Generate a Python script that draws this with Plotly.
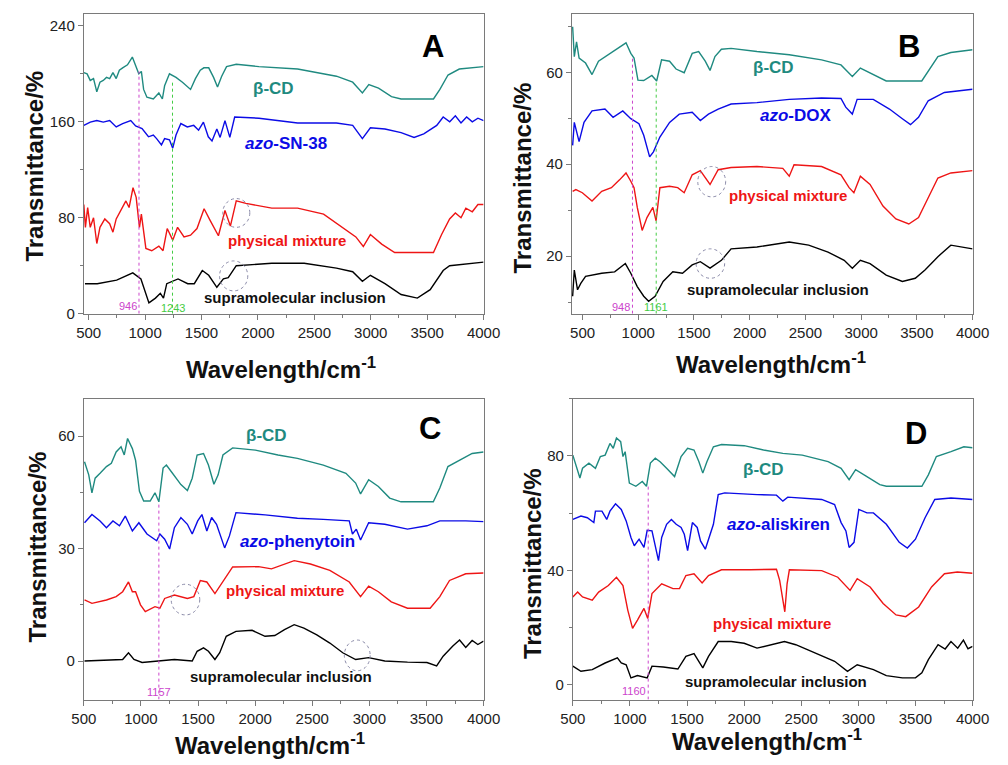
import plotly.graph_objects as go

# ---------------- FTIR spectra (wavenumber, transmittance) ----------------
# Panel A : azo-SN-38
a_bcd_x = [457, 486, 514, 543, 572, 600, 629, 658, 686, 715, 744, 772, 801, 844, 887, 916, 944, 967, 987, 1016,
           1073, 1122, 1153, 1173, 1216, 1274, 1331, 1403, 1446, 1489, 1521, 1564, 1607, 1642, 1679, 1722, 1808,
           2009, 2352, 2696, 2840, 2926, 2983, 3069, 3184, 3269, 3556, 3613, 3685, 3785, 3900, 4000]
a_bcd_y = [201, 200, 194.5, 196, 185, 193, 194.5, 197, 196, 201, 196, 203, 205, 207.5, 214, 206, 200, 202, 187,
           180.5, 179, 184, 179, 190, 200, 197, 193, 187, 196, 203, 205, 205, 197, 189, 198, 206, 208,
           206, 204, 198, 193, 184, 191, 188, 181, 179, 179, 187, 199, 204, 205, 206]

a_drug_x = [457, 514, 572, 629, 686, 744, 801, 873, 916, 973, 1030, 1073, 1102, 1145, 1173, 1216, 1245, 1274,
            1317, 1374, 1431, 1474, 1517, 1560, 1593, 1636, 1665, 1708, 1751, 1794, 2009, 2352, 2696, 2840,
            2926, 2997, 3126, 3269, 3384, 3470, 3585, 3642, 3700, 3750, 3800, 3850, 3900, 3950, 4000]
a_drug_y = [157, 159.7, 161, 159.7, 161, 155.7, 158.5, 161, 156.5, 154.4, 147.5, 149, 146, 140.8, 146, 145, 138,
            149, 158.5, 155.7, 157, 153, 159.7, 147.5, 144, 154, 147, 161, 147, 164, 163, 159, 159, 157,
            146, 155, 154, 151, 147, 150, 157, 164, 160, 165, 159, 164, 160, 163, 161]

a_mix_x = [457, 471, 491, 514, 543, 572, 600, 643, 686, 715, 744, 787, 830, 858, 893, 921, 950, 967, 987, 1007,
           1059, 1122, 1159, 1196, 1245, 1288, 1345, 1403, 1460, 1523, 1575, 1650, 1708, 1756, 1808, 1894,
           2123, 2352, 2582, 2754, 2868, 2934, 2997, 3097, 3212, 3556, 3628, 3699, 3750, 3800, 3843, 3900,
           3950, 4000]
a_mix_y = [91, 72, 88.5, 72, 80, 58.5, 72, 79, 75, 68, 79, 86, 94, 88.5, 105, 97, 72, 83, 69.5, 54.4,
           52.5, 56.4, 52.5, 71, 61.3, 72, 64, 65.5, 71, 87.5, 78, 65, 86, 73, 94, 92,
           88, 88, 83, 72, 64, 56, 66, 58, 51, 51, 66, 79, 84, 80, 88, 85,
           91, 91]

a_inc_x = [467, 576, 748, 891, 963, 1034, 1092, 1135, 1163, 1192, 1292, 1378, 1436, 1507, 1564, 1636, 1694,
           1737, 1808, 2123, 2410, 2696, 2840, 2926, 2997, 3126, 3269, 3413, 3527, 3642, 3699, 4000]
a_inc_y = [25, 25, 28, 34, 29, 9, 13, 17, 13, 25, 29, 25, 25, 36, 32, 22, 29,
           30, 40, 42, 42, 38, 35, 27, 32, 25, 16, 13, 20, 36, 40, 43]

# Panel B : azo-DOX
b_bcd_x = [411, 426, 446, 469, 527, 585, 643, 730, 817, 890, 933, 962, 997, 1049, 1122, 1165, 1209, 1281, 1339,
           1412, 1484, 1542, 1601, 1644, 1688, 1746, 1833, 2065, 2355, 2645, 2819, 2921, 2993, 3109, 3225,
           3544, 3631, 3689, 3805, 4000]
b_bcd_y = [69.9, 63.4, 66.6, 63.1, 62.0, 59.5, 62.4, 63.8, 65.2, 66.4, 64.1, 63.1, 58.3, 58.2, 59.3, 58.1, 62.7,
           62.4, 60.7, 59.9, 64.1, 64.5, 62.4, 60.4, 63.4, 65.0, 65.2, 64.5, 63.8, 62.7, 61.6, 59.1, 60.9,
           59.5, 58.1, 58.1, 61.3, 63.4, 64.3, 64.9]

b_drug_x = [411, 426, 469, 513, 585, 701, 774, 861, 933, 1006, 1049, 1102, 1136, 1194, 1281, 1368, 1484, 1557,
            1630, 1717, 1833, 2065, 2355, 2645, 2819, 2862, 2921, 2964, 3109, 3254, 3370, 3443, 3515, 3602,
            3747, 4000]
b_drug_y = [44.1, 49.1, 44.9, 49.1, 51.6, 52.0, 50.2, 51.6, 49.9, 48.8, 46.3, 41.6, 42.7, 45.9, 49.1, 50.9,
            51.3, 49.5, 50.9, 52.0, 53.1, 53.4, 54.1, 54.4, 54.3, 52.4, 50.9, 54.1, 54.1, 52.0, 49.9, 48.6,
            50.2, 53.8, 55.6, 56.3]

b_mix_x = [411, 440, 498, 585, 672, 759, 832, 890, 933, 962, 991, 1035, 1078, 1131, 1160, 1194, 1281, 1354,
           1412, 1484, 1557, 1644, 1717, 1833, 2065, 2297, 2355, 2398, 2645, 2819, 2892, 2935, 2993, 3080,
           3196, 3312, 3428, 3515, 3602, 3689, 3805, 4000]
b_mix_y = [34.1, 34.5, 33.8, 32.0, 34.1, 34.9, 36.6, 38.1, 36.3, 34.9, 30.6, 25.6, 28.4, 30.6, 27.7, 34.9,
           35.2, 34.9, 33.8, 37.7, 38.6, 35.6, 38.8, 39.3, 39.5, 39.1, 37.4, 39.9, 39.5, 37.7, 34.9, 33.8,
           37.4, 35.6, 30.9, 28.1, 27.0, 28.4, 32.7, 37.0, 38.1, 38.6]

b_inc_x = [411, 426, 455, 484, 527, 672, 788, 884, 933, 991, 1049, 1093, 1151, 1223, 1310, 1397, 1484, 1557,
           1644, 1746, 1833, 2065, 2355, 2529, 2703, 2848, 2921, 2993, 3080, 3225, 3370, 3486, 3573, 3689,
           3805, 4000]
b_inc_y = [11.3, 17.0, 12.7, 14.1, 15.6, 16.3, 16.6, 18.4, 16.3, 13.4, 11.3, 10.2, 11.3, 14.5, 16.6, 16.3,
           18.1, 18.8, 17.4, 19.1, 21.6, 22.0, 23.1, 22.4, 20.9, 19.1, 17.4, 19.1, 18.4, 15.9, 14.5, 15.2,
           17.0, 19.9, 22.4, 21.6]

# Panel C : azo-phenytoin
c_bcd_x = [506, 543, 571, 599, 642, 698, 741, 783, 826, 854, 883, 925, 953, 987, 1024, 1081, 1123, 1157, 1194,
           1223, 1265, 1308, 1350, 1407, 1449, 1492, 1548, 1591, 1639, 1676, 1718, 1803, 2002, 2200, 2370,
           2597, 2795, 2880, 2923, 2994, 3079, 3178, 3277, 3560, 3617, 3688, 3787, 3900, 4000]
c_bcd_y = [53.2, 49.7, 44.9, 48.8, 50.1, 51.9, 52.8, 55.8, 57.2, 55.0, 59.4, 56.7, 53.6, 45.3, 42.7, 42.7,
           44.9, 42.5, 51.5, 52.3, 50.6, 48.8, 47.1, 45.5, 48.8, 55.0, 55.4, 52.3, 47.2, 49.7, 55.0, 56.9,
           56.3, 55.0, 54.1, 52.3, 50.1, 47.5, 44.6, 48.4, 46.6, 43.5, 42.5, 42.5, 46.2, 51.9, 53.6, 55.4,
           55.8]

c_drug_x = [506, 571, 642, 698, 755, 812, 863, 925, 982, 1053, 1138, 1166, 1208, 1251, 1293, 1350, 1407, 1449,
            1497, 1534, 1577, 1619, 1662, 1718, 1733, 1775, 1803, 1832, 2087, 2370, 2597, 2824, 2852, 2886,
            2923, 2994, 3135, 3334, 3504, 3617, 3844, 4000]
c_drug_y = [36.9, 39.1, 37.4, 35.6, 37.4, 36.1, 38.7, 34.7, 36.9, 33.9, 32.1, 33.9, 32.5, 29.9, 35.6, 38.3,
            36.5, 33.9, 37.4, 39.1, 34.7, 38.3, 36.5, 31.2, 30.2, 33.4, 36.5, 39.6, 39.0, 38.1, 37.8, 37.4,
            33.9, 35.2, 32.3, 36.9, 36.5, 35.2, 36.1, 37.4, 37.4, 37.2]

c_mix_x = [506, 571, 698, 783, 840, 891, 925, 953, 996, 1038, 1123, 1166, 1208, 1293, 1407, 1463, 1520, 1577,
           1648, 1704, 1803, 2030, 2143, 2342, 2484, 2654, 2824, 2923, 2994, 3079, 3192, 3334, 3532, 3617,
           3702, 3844, 4000]
c_mix_y = [16.3, 15.4, 16.3, 17.2, 18.5, 21.1, 18.5, 18.5, 15.0, 13.2, 14.5, 14.1, 16.7, 17.6, 16.7, 17.2,
           21.5, 21.1, 18.0, 20.7, 25.1, 25.2, 24.6, 26.8, 25.9, 24.2, 21.1, 17.2, 20.0, 18.5, 15.8, 14.1,
           14.1, 17.2, 21.5, 23.3, 23.5]

c_inc_x = [506, 727, 840, 891, 939, 1010, 1152, 1293, 1449, 1492, 1548, 1591, 1648, 1690, 1747, 1832, 1973,
           2087, 2172, 2257, 2342, 2427, 2540, 2654, 2767, 2880, 2994, 3135, 3334, 3504, 3589, 3646, 3731,
           3790, 3844, 3900, 3950, 4000]
c_inc_y = [0.0, 0.3, 0.4, 2.2, 0.4, -0.4, 0.0, 0.4, 0.0, 2.6, 3.5, 2.6, 0.4, 2.2, 6.6, 7.9, 8.2, 6.6, 6.8,
           8.4, 9.7, 8.8, 7.0, 4.8, 2.2, 0.4, 0.9, 0.0, -0.3, -0.4, -1.3, 1.3, 4.0, 5.6, 3.6, 5.5, 4.4, 5.3]

# Panel D : azo-aliskiren
d_bcd_x = [500, 528, 562, 585, 641, 698, 741, 783, 825, 854, 882, 919, 939, 958, 995, 1052, 1108, 1145, 1179,
           1222, 1264, 1321, 1391, 1448, 1505, 1561, 1604, 1638, 1674, 1731, 1802, 2000, 2170, 2339, 2509,
           2735, 2849, 2919, 2976, 3075, 3188, 3245, 3556, 3613, 3683, 3811, 3924, 4000]
d_bcd_y = [80.3, 76.9, 72.3, 75.7, 77.5, 75.7, 79.8, 80.3, 84.4, 82.7, 86.3, 85.0, 79.8, 81.5, 70.5, 69.4,
           71.1, 69.4, 77.5, 79.2, 78.0, 75.7, 72.8, 79.8, 82.7, 82.1, 78.0, 74.0, 78.0, 83.2, 84.0, 83.6,
           82.1, 80.9, 80.3, 78.0, 75.7, 71.7, 75.2, 72.8, 70.0, 69.4, 69.4, 73.4, 79.8, 81.5, 83.2, 82.9]

d_drug_x = [500, 571, 627, 684, 698, 755, 797, 825, 874, 924, 967, 1009, 1038, 1080, 1123, 1151, 1193, 1222,
            1250, 1278, 1321, 1363, 1405, 1448, 1476, 1505, 1547, 1589, 1618, 1660, 1703, 1731, 1773, 1830,
            2113, 2283, 2339, 2382, 2679, 2792, 2849, 2891, 2919, 2962, 3004, 3075, 3132, 3245, 3358, 3429,
            3500, 3584, 3669, 3811, 4000]
d_drug_y = [57.8, 59.0, 58.4, 56.7, 60.7, 60.7, 57.8, 60.7, 63.3, 61.3, 57.3, 51.5, 48.6, 50.9, 48.0, 54.0,
            53.8, 48.0, 43.4, 51.5, 56.1, 57.8, 56.1, 55.0, 52.6, 46.9, 56.7, 55.0, 50.3, 47.4, 53.2, 56.1,
            66.5, 67.1, 66.5, 66.3, 64.2, 65.6, 64.8, 63.0, 56.7, 53.8, 48.0, 49.8, 61.3, 60.1, 60.1, 56.1,
            49.8, 47.8, 50.9, 58.4, 64.8, 65.3, 64.8]

d_mix_x = [500, 542, 585, 670, 726, 811, 882, 939, 981, 1023, 1066, 1123, 1156, 1193, 1278, 1377, 1434, 1490,
           1561, 1632, 1688, 1802, 2056, 2283, 2311, 2339, 2356, 2376, 2396, 2679, 2820, 2928, 2990, 3103,
           3217, 3330, 3415, 3528, 3641, 3754, 3867, 4000]
d_mix_y = [30.7, 32.4, 30.7, 29.6, 32.4, 34.7, 37.6, 34.7, 26.1, 19.7, 22.6, 26.7, 23.2, 31.9, 35.3, 33.6,
           33.6, 38.2, 38.8, 35.6, 38.2, 40.2, 40.2, 40.4, 36.5, 29.6, 25.5, 35.3, 40.2, 39.9, 37.6, 33.0,
           37.1, 34.2, 28.4, 24.4, 23.8, 27.2, 34.2, 38.8, 39.4, 39.0]

d_inc_x = [500, 571, 670, 783, 890, 924, 967, 1009, 1066, 1151, 1193, 1292, 1420, 1490, 1561, 1638, 1688,
           1773, 1887, 2000, 2113, 2226, 2353, 2452, 2622, 2792, 2905, 2990, 3132, 3245, 3386, 3500, 3556,
           3613, 3698, 3760, 3811, 3870, 3920, 3960, 4000]
d_inc_y = [6.5, 4.7, 5.3, 7.6, 9.4, 7.6, 7.0, 2.4, 3.2, 2.4, 6.5, 6.2, 5.5, 9.9, 10.9, 5.9, 9.9, 15.1,
           15.1, 14.5, 12.8, 14.0, 15.1, 14.0, 11.1, 8.2, 4.7, 7.0, 5.3, 3.2, 2.4, 2.4, 4.2, 8.8, 14.0, 12.5,
           15.1, 12.8, 15.6, 12.6, 13.4]

# ---------------- labels ----------------
panel_letters = ["A", "B", "C", "D"]
drug_names = ["SN-38", "DOX", "phenytoin", "aliskiren"]
y_ticks = [[0, 80, 160, 240], [20, 40, 60], [0, 30, 60], [0, 40, 80]]
y_minor = [40, 10, 15, 20]
x_ticks = [500, 1000, 1500, 2000, 2500, 3000, 3500, 4000]

# marked band positions: (panel, wavenumber, label colour key)
band_marks = [(0, 946, "m"), (0, 1243, "g"), (1, 948, "m"), (1, 1161, "g"), (2, 1157, "m"), (3, 1160, "m")]

TEAL = "#1f8a80"
BLUE = "#0b0be6"
RED = "#ee1515"
BLACK = "#000000"
MAG = "#cc44cc"
GRN = "#44cc44"

W, H = 1008, 765


def px_x(p):
    return p / W


def px_y(p):
    return 1 - p / H


# plot-area boxes in pixels: (left, right, top, bottom)
boxes = [(73, 485, 14, 317), (576, 989, 14, 317), (73, 485, 403, 707), (577, 989, 403, 707)]
x_ranges = [[457, 4000], [404, 4000], [500, 4000], [500, 4000]]
y_ranges = [[0, 250], [7.5, 72.7], [-10.3, 70], [-5.2, 100]]

panels = [
    (a_bcd_x, a_bcd_y, a_drug_x, a_drug_y, a_mix_x, a_mix_y, a_inc_x, a_inc_y),
    (b_bcd_x, b_bcd_y, b_drug_x, b_drug_y, b_mix_x, b_mix_y, b_inc_x, b_inc_y),
    (c_bcd_x, c_bcd_y, c_drug_x, c_drug_y, c_mix_x, c_mix_y, c_inc_x, c_inc_y),
    (d_bcd_x, d_bcd_y, d_drug_x, d_drug_y, d_mix_x, d_mix_y, d_inc_x, d_inc_y),
]

fig = go.Figure()
layout = dict(width=W, height=H, margin=dict(l=0, r=0, t=0, b=0),
              paper_bgcolor="white", plot_bgcolor="white", showlegend=False)

axis_font = dict(family="Arial, Liberation Sans, sans-serif", size=15, color="#222")

for i, series in enumerate(panels):
    n = "" if i == 0 else str(i + 1)
    xa, ya = "x" + n, "y" + n
    l, r, t, b = boxes[i]
    colors = [TEAL, BLUE, RED, BLACK]
    for k in range(4):
        fig.add_trace(go.Scatter(x=series[2 * k], y=series[2 * k + 1], mode="lines",
                                 line=dict(color=colors[k], width=1.4), xaxis=xa, yaxis=ya,
                                 hoverinfo="skip"))
    common = dict(showline=True, linecolor="#7a7a7a", linewidth=1, mirror=True, ticks="outside",
                  ticklen=5, tickcolor="#7a7a7a", tickfont=axis_font, showgrid=False, zeroline=False)
    layout["xaxis" + n] = dict(domain=[px_x(l), px_x(r)], range=x_ranges[i], anchor=ya,
                               tickvals=x_ticks, minor=dict(dtick=250, tick0=0, ticklen=3,
                                                            tickcolor="#7a7a7a", ticks="outside"),
                               **common)
    layout["yaxis" + n] = dict(domain=[px_y(b), px_y(t)], range=y_ranges[i], anchor=xa,
                               tickvals=y_ticks[i], minor=dict(dtick=y_minor[i], tick0=0, ticklen=3,
                                                               tickcolor="#7a7a7a", ticks="outside"),
                               **common)

fig.update_layout(**layout)

# ---------------- annotations ----------------
ann = []
shapes = []
title_font = dict(family="Arial, Liberation Sans, sans-serif", size=24, color="#111")

# axis titles (pixel centres)
ytitle_pos = [(22, 168), (525, 180), (25, 553), (535, 570)]
xtitle_pos = [(276, 372), (781, 367), (265, 752), (777, 748)]
for i in range(4):
    ann.append(dict(text="<b>Transmittance/%</b>", x=px_x(ytitle_pos[i][0]), y=px_y(ytitle_pos[i][1]),
                    xref="paper", yref="paper", textangle=-90, showarrow=False, font=title_font,
                    xanchor="center", yanchor="middle"))
    ann.append(dict(text="<b>Wavelength/cm<sup>-1</sup></b>", x=px_x(xtitle_pos[i][0]),
                    y=px_y(xtitle_pos[i][1]), xref="paper", yref="paper", showarrow=False,
                    font=title_font, xanchor="center", yanchor="middle"))

# panel letters (data coords)
letter_pos = [(3550, 222.7), (3434, 65.6), (3532, 62.0), (3505, 87.8)]
for i in range(4):
    n = "" if i == 0 else str(i + 1)
    ann.append(dict(text="<b>%s</b>" % panel_letters[i], x=letter_pos[i][0], y=letter_pos[i][1],
                    xref="x" + n, yref="y" + n, showarrow=False,
                    font=dict(family="Arial, Liberation Sans, sans-serif", size=31, color="black")))

# series labels (data coords)
label_pos = [
    [(2138, 188), (2252, 142), (2261, 61.4), (2332, 13.7)],
    [(2210, 61.1), (2413, 50.6), (2340, 33.1), (2253, 12.7)],
    [(2101, 60.2), (2370, 31.8), (2265, 18.9), (2223, -4.1)],
    [(2170, 75.2), (2297, 56.1), (2240, 21.5), (2277, 1.3)],
]
lab_colors = [TEAL, BLUE, RED, "#111"]
for i in range(4):
    n = "" if i == 0 else str(i + 1)
    texts = ["<b>β-CD</b>", "<b><i>azo</i>-%s</b>" % drug_names[i], "<b>physical mixture</b>",
             "<b>supramolecular inclusion</b>"]
    sizes = [17, 17, 15, 15]
    for k in range(4):
        ann.append(dict(text=texts[k], x=label_pos[i][k][0], y=label_pos[i][k][1], xref="x" + n,
                        yref="y" + n, showarrow=False,
                        font=dict(family="Arial, Liberation Sans, sans-serif", size=sizes[k],
                                  color=lab_colors[k]),
                        xanchor="center", yanchor="middle"))

# dotted vertical band markers: from the axis bottom up to the β-CD trace
band_tops = [202, 195, 63, 58, 42, 69.4]
band_label_pos = [(6, "right"), (5, "center"), (9, "right"), (9, "center"), (-8.4, "center"), (-2.2, "right")]
for j, (p, wn, key) in enumerate(band_marks):
    n = "" if p == 0 else str(p + 1)
    col = MAG if key == "m" else GRN
    shapes.append(dict(type="line", xref="x" + n, yref="y" + n, x0=wn, x1=wn,
                       y0=y_ranges[p][0], y1=band_tops[j],
                       line=dict(color=col, width=1, dash="dot")))
    ann.append(dict(text=str(wn), x=wn, y=band_label_pos[j][0], xref="x" + n, yref="y" + n,
                    showarrow=False, xanchor=band_label_pos[j][1], yanchor="middle",
                    font=dict(family="Arial, Liberation Sans, sans-serif", size=11, color=col)))

# dotted circles highlighting carbonyl region changes
circles = [(0, 1808, 84, 120, 12), (0, 1785, 31.5, 125, 12.5),
           (1, 1659, 36.2, 125, 3.3), (1, 1647, 18.4, 128, 3.2),
           (2, 1390, 16.4, 125, 4.1), (2, 2894, 1.5, 113, 4.1)]
for p, cx, cy, rx, ry in circles:
    n = "" if p == 0 else str(p + 1)
    shapes.append(dict(type="circle", xref="x" + n, yref="y" + n, x0=cx - rx, x1=cx + rx,
                       y0=cy - ry, y1=cy + ry, line=dict(color="#8a8aa8", width=1, dash="dot")))

fig.update_layout(annotations=ann, shapes=shapes)
fig.write_html("out.html")
